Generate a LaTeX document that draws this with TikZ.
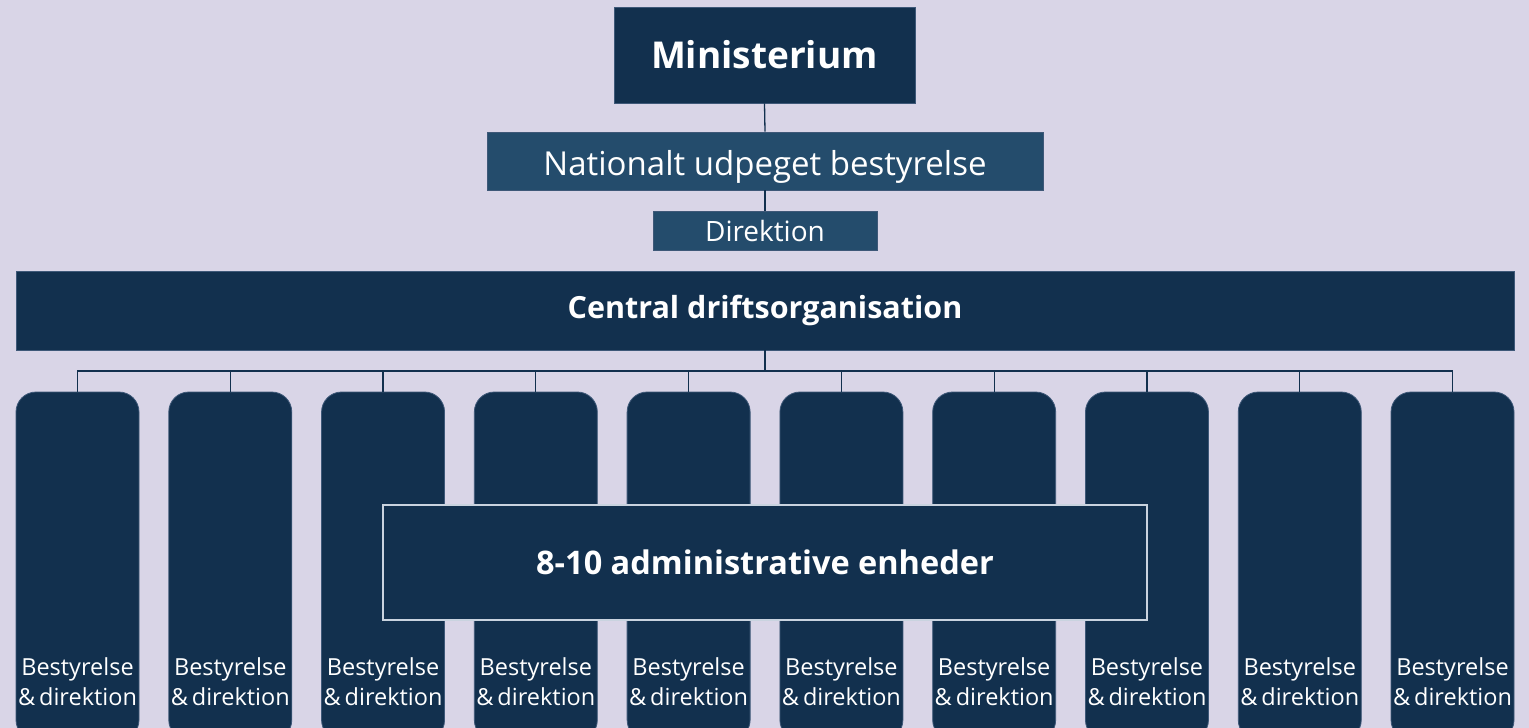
\documentclass[tikz,border=0pt]{standalone}
\usepackage{fontspec}
\setmainfont{Open Sans}
\usetikzlibrary{positioning}
\definecolor{bgl}{HTML}{D9D5E7}
\definecolor{navy}{HTML}{12304E}
\definecolor{midblue}{HTML}{244C6C}
\definecolor{edge}{HTML}{3E5878}
\definecolor{frame}{HTML}{C9D3DF}

\begin{document}
\begin{tikzpicture}[x=1pt,y=-1pt,
  darkbox/.style={fill=navy, draw=edge, line width=0.8pt, text=white, inner sep=0pt},
  lightbox/.style={fill=midblue, draw=edge, line width=0.8pt, text=white, inner sep=0pt},
  colbox/.style={darkbox, rounded corners=20pt, minimum width=123pt, minimum height=348pt},
  collabel/.style={text=white, align=center, font=\fontsize{23.5}{30}\selectfont, inner sep=0pt},
  link/.style={draw=navy, line width=1.3pt}]
  \fill[bgl] (0,0) rectangle (1529,728);
  \useasboundingbox (0,0) rectangle (1529,728);

  \node[darkbox, minimum width=301pt, minimum height=96pt, font=\fontsize{37}{44}\selectfont\bfseries] (min) at (764.5,55) {Ministerium};
  \node[lightbox, minimum width=556pt, minimum height=58pt, text height=28pt, text depth=0pt, font=\fontsize{33}{38}\selectfont] (nat) at (765,161) {Nationalt udpeget bestyrelse};
  \node[lightbox, minimum width=224pt, minimum height=39pt, font=\fontsize{28}{32}\selectfont] (dir) at (765,230.5) {Direktion};
  \node[darkbox, minimum width=1498pt, minimum height=79pt, font=\fontsize{30.5}{36}\selectfont\bfseries] (cent) at (765,310.5) {Central driftsorganisation};
  \coordinate (bus) at (765,371);

  \foreach \i in {0,...,9}{
    \node[colbox] (c\i) at ({77.5+152.78*\i},566) {};
    \node[collabel] (l\i) at ({77.5+152.78*\i},682) {Bestyrelse\\\&\,direktion};
  }

  \node[darkbox, draw=frame, line width=1.4pt, minimum width=764pt, minimum height=115pt, font=\fontsize{32.5}{38}\selectfont\bfseries] (adm) at (765,562.5) {8-10 administrative enheder};

  \draw[link] (min.south) -- (nat.north);
  \draw[link] (nat.south) -- (dir.north);
  \draw[link] (cent.south) -- (bus);
  \draw[link] (c0.north) -- (c0.north |- bus) -- (c9.north |- bus) -- (c9.north);
  \foreach \i in {1,...,8}
    \draw[link] (c\i.north) -- (c\i.north |- bus);
\end{tikzpicture}
\end{document}
